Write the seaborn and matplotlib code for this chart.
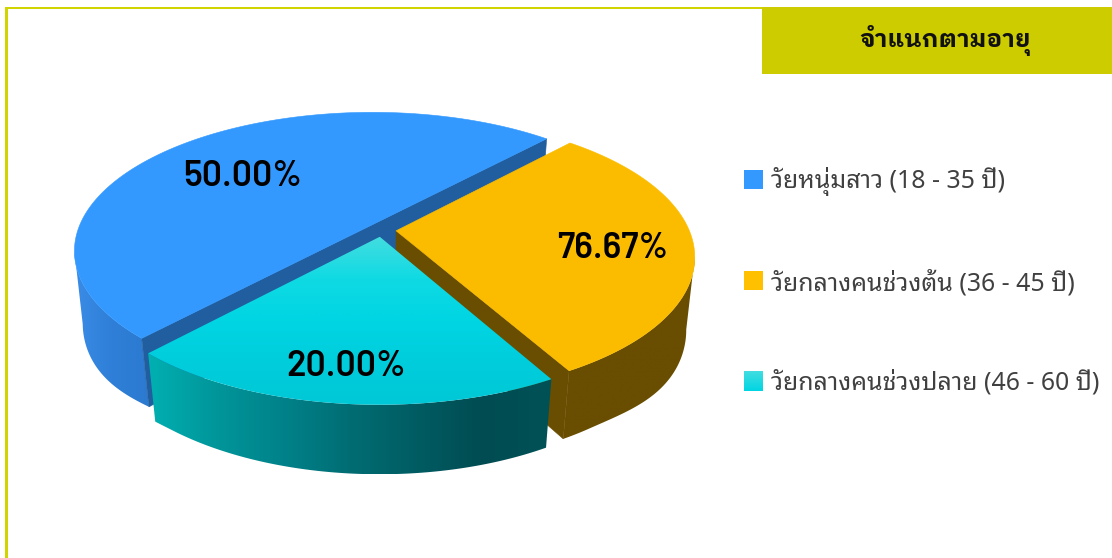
import numpy as np
import matplotlib
matplotlib.use("Agg")
import matplotlib.pyplot as plt
from matplotlib import font_manager as fm
from matplotlib.patches import Polygon, Rectangle
import seaborn as sns

categories = ["วัยหนุ่มสาว (18 - 35 ปี)", "วัยกลางคนช่วงต้น (36 - 45 ปี)", "วัยกลางคนช่วงปลาย (46 - 60 ปี)"]
slice_shares = [50, 30, 20]
value_labels = ["50.00%", "76.67%", "20.00%"]
title = "จำแนกตามอายุ"

sns.set_theme(style="white")

installed = {f.name for f in fm.fontManager.ttflist}
thai_family = [n for n in ["Noto Sans Thai Looped", "IBM Plex Sans Thai Looped", "Sarabun", "Noto Sans", "DejaVu Sans"] if n in installed]
title_family = [n for n in ["IBM Plex Sans Thai Looped", "Noto Sans Thai Looped", "Sarabun", "Noto Sans", "DejaVu Sans"] if n in installed]
label_family = next((n for n in ["Barlow", "Roboto"] if n in installed), "DejaVu Sans")

W, H = 1112, 558
fig = plt.figure(figsize=(W / 100, H / 100), dpi=100, facecolor="white")
ax = fig.add_axes([0, 0, 1, 1])
ax.set_axis_off()

CX, CY, A, B, K, M, DEPTH, EXPLODE = 381.5, 230, 293, 135, 0.18, 0.027, 63, 0.05
START = 47.3 + 180


def project(u, v, z=0.0):
    w = 1 + K * v + M * z
    # the lower rim bulges a little further down at the far left and right
    s = np.clip((np.abs(u) - 0.62) / 0.38, 0, 1)
    bulge = 1 + 0.17 * s * s * (3 - 2 * s)
    return CX + A * u / w, CY + (-B * v + DEPTH * z * bulge) / w


shares = np.array(slice_shares, dtype=float)
sweeps = shares / shares.sum() * 360
ends = START - np.cumsum(sweeps)
starts = ends + sweeps
mids = (starts + ends) / 2


def poly_xy(px, py):
    return np.column_stack([px, py])


def fill(xy, color, z):
    ax.add_patch(Polygon(xy, closed=True, fc=color, ec=color, lw=0.4, zorder=z))


def grad_fill(xy, cols, horizontal, z):
    xy = np.asarray(xy)
    cmap = sns.blend_palette(cols, 256, as_cmap=True)
    g = np.linspace(0, 1, 256)
    g = g[None, :] if horizontal else g[:, None]
    ext = (xy[:, 0].min(), xy[:, 0].max(), xy[:, 1].max(), xy[:, 1].min())
    im = ax.imshow(g, cmap=cmap, extent=ext, aspect="auto", origin="upper", zorder=z, interpolation="bilinear")
    clip = Polygon(xy, closed=True, transform=ax.transData, fc="none", ec="none")
    ax.add_patch(clip)
    im.set_clip_path(clip)


wall_styles = [["#3A8CE6", "#2F7FD8", "#2C7AD0"], ["#694D00", "#694D00"],
               ["#00B0B2", "#00969A", "#00828A", "#006D73", "#005C62", "#004C52", "#005257"]]
cut_colors = ["#205E9F", "#694D00", None]
top_colors = ["#3399FF", "#FBBC00", None]
cyan_top = ["#42DDE0", "#0FDAE3", "#00D5E3", "#00CDDC", "#00C8D6"]

for i in range(3):
    t = np.radians(np.linspace(starts[i], ends[i], 360))
    ox, oy = EXPLODE * np.cos(np.radians(mids[i])), EXPLODE * np.sin(np.radians(mids[i]))
    u, v = ox + np.cos(t), oy + np.sin(t)
    base = 10 + i * 5
    tx, ty = project(u, v, 0)
    bx, by = project(u, v, 1)
    front = np.sin(t) < -K
    wall = np.vstack([poly_xy(tx[front], ty[front]), poly_xy(bx[front], by[front])[::-1]])
    grad_fill(wall, wall_styles[i], True, base)
    ax0, ay0 = project(ox, oy, 0)
    bx0, by0 = project(ox, oy, 1)
    if i == 0:
        face = [(tx[0], ty[0]), (bx[0], by[0]), (bx[-1], by[-1]), (tx[-1], ty[-1])]
        fill(face, cut_colors[0], base + 1)
    if i == 1:
        face = [(ax0, ay0), (bx0, by0), (bx[-1], by[-1]), (tx[-1], ty[-1])]
        fill(face, cut_colors[1], base + 1)
    top = np.vstack([[(ax0, ay0)], poly_xy(tx, ty)])
    if top_colors[i]:
        fill(top, top_colors[i], base + 2)
    else:
        grad_fill(top, cyan_top, False, base + 2)

label_pos = [(243, 176), (613, 248), (346, 367)]
for s, (x, y) in zip(value_labels, label_pos):
    ax.text(x, y, s, ha="center", va="center", fontsize=25.5, family=label_family, weight="semibold", color="black", zorder=40)

frame = "#D2D400"
ax.add_patch(Rectangle((5, 7), 757, 1.6, fc=frame, ec="none", zorder=1))
ax.add_patch(Rectangle((5, 7), 2.6, H - 7, fc=frame, ec="none", zorder=1))
ax.add_patch(Rectangle((762, 7), 350, 67, fc="#CCCC00", ec="none", zorder=2))
ax.text(945, 41, title, ha="center", va="center", fontsize=17.5, weight="bold", family=title_family, color="#111111", zorder=3)

legend_y = [180, 281, 381]
legend_c = ["#3399FF", "#FFC000", None]
for name, y, c in zip(categories, legend_y, legend_c):
    if c:
        ax.add_patch(Rectangle((744, y - 10), 19, 19, fc=c, ec="none", zorder=3))
    else:
        grad_fill([(744, y - 10), (763, y - 10), (763, y + 10), (744, y + 10)], ["#42DDE0", "#00D5E3"], False, 3)
    ax.text(771, y + 2, name, ha="left", va="center", fontsize=17.9, weight="light", family=thai_family, color="#404040", zorder=3)

ax.set_xlim(0, W)
ax.set_ylim(H, 0)
fig.savefig("out.png", dpi=100, facecolor="white")
